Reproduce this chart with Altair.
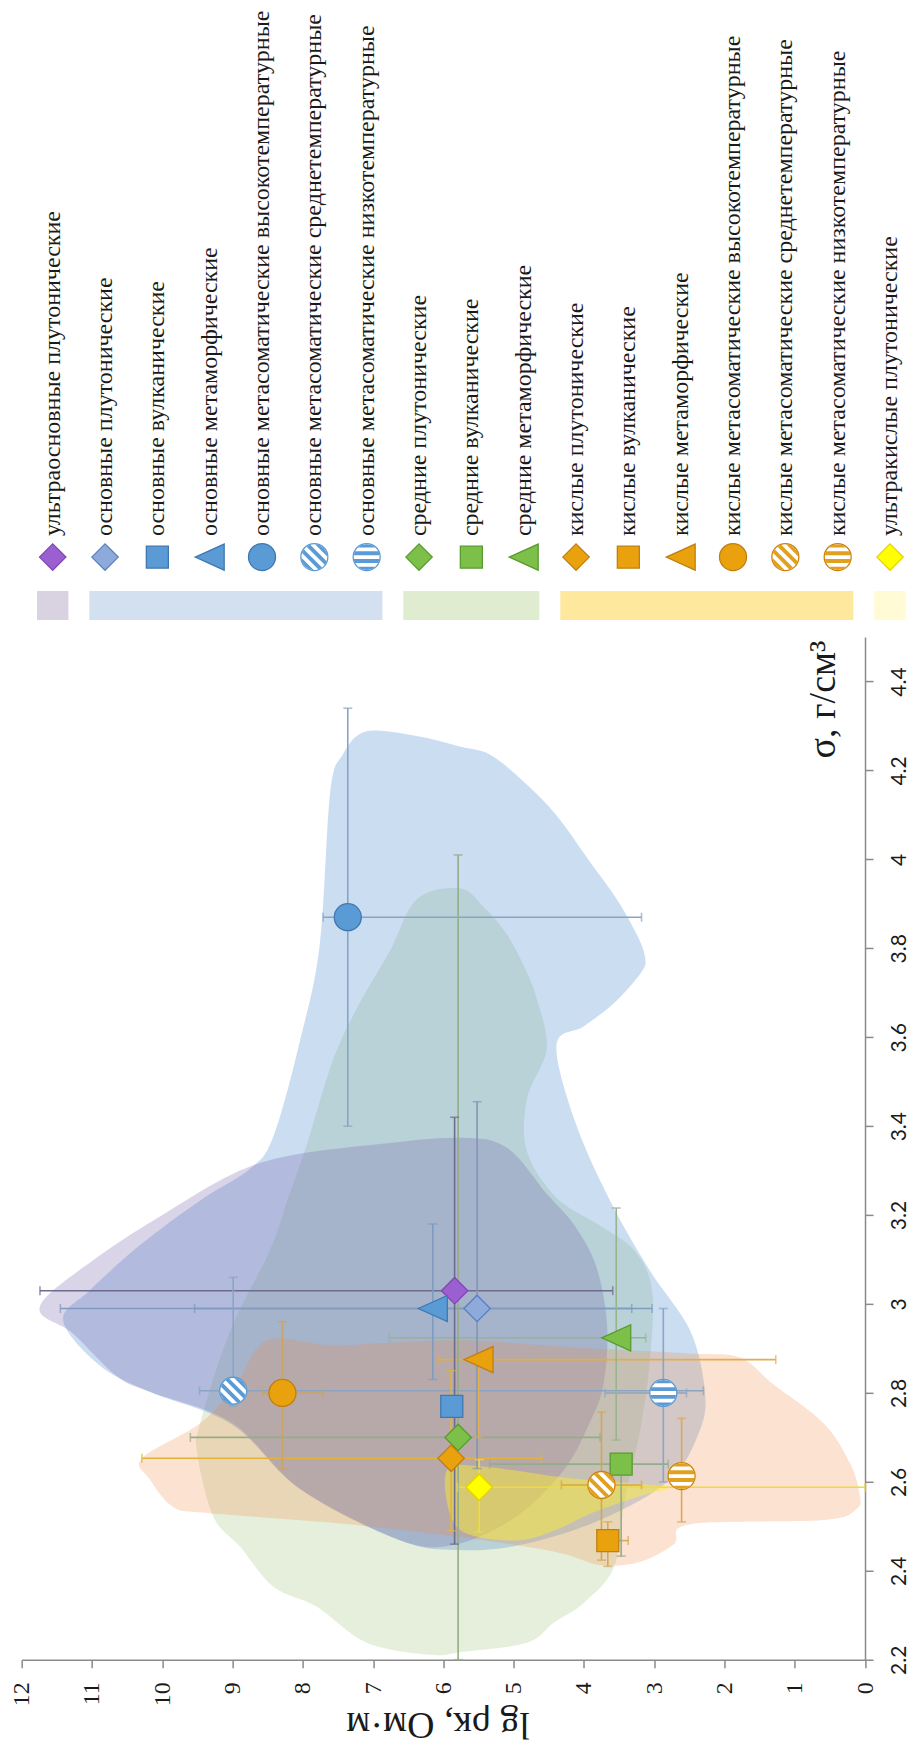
import math
import altair as alt
import pandas as pd

# ------------------------------------------------------------------ data
names = [
    "ультраосновные плутонические",
    "основные плутонические",
    "основные вулканические",
    "основные метаморфические",
    "основные метасоматические высокотемпературные",
    "основные метасоматические среднетемпературные",
    "основные метасоматические низкотемпературные",
    "средние плутонические",
    "средние вулканические",
    "средние метаморфические",
    "кислые плутонические",
    "кислые вулканические",
    "кислые метаморфические",
    "кислые метасоматические высокотемпературные",
    "кислые метасоматические среднетемпературные",
    "кислые метасоматические низкотемпературные",
    "ультракислые плутонические",
]
lg_vals = [5.84, 5.52, 5.88, 6.15, 7.36, 8.99, 2.87, 5.79, 3.47, 3.54, 5.89, 3.66, 5.50, 8.29, 3.75, 2.61, 5.49]
sig_vals = [3.03, 2.99, 2.77, 2.99, 3.87, 2.805, 2.80, 2.70, 2.64, 2.924, 2.653, 2.468, 2.875, 2.80, 2.593, 2.613, 2.588]
lg_left = [11.74, 9.54, 5.88, 11.45, 7.71, 9.47, 3.70, 9.60, 5.34, 6.77, 10.29, 3.77, 6.07, 8.57, 4.32, 2.61, 5.80]
lg_right = [3.59, 3.32, 5.88, 3.03, 3.18, 2.30, 2.54, 3.77, 2.80, 3.12, 4.60, 3.37, 1.27, 7.71, 3.18, 2.61, 0.00]
sig_low = [2.46, 2.63, 2.77, 2.83, 3.40, 2.77, 2.60, 2.20, 2.433, 2.694, 2.49, 2.41, 2.70, 2.63, 2.424, 2.51, 2.488]
sig_high = [3.42, 3.455, 2.77, 3.18, 4.34, 3.06, 2.99, 4.01, 2.64, 3.216, 2.85, 2.51, 2.875, 2.96, 2.757, 2.743, 2.65]

marker_kind = ["diamond", "diamond", "square", "triangle", "circle", "diag", "horiz",
               "diamond", "square", "triangle",
               "diamond", "square", "triangle", "circle", "diag", "horiz",
               "diamond"]
marker_fill = ["#9c5fd2", "#8eaadb", "#5b9bd5", "#5b9bd5", "#5b9bd5", "#ffffff", "#ffffff",
               "#7cc04a", "#7cc04a", "#7cc04a",
               "#e9a20e", "#e9a20e", "#e9a20e", "#e9a20e", "#ffffff", "#ffffff",
               "#ffff00"]
marker_stroke = ["#7d48b0", "#5b7fc0", "#3f78b0", "#3f78b0", "#3f78b0", "#5b9bd5", "#5b9bd5",
                 "#5a9a2f", "#5a9a2f", "#5a9a2f",
                 "#c07f10", "#c07f10", "#c07f10", "#c07f10", "#d0800a", "#d0800a",
                 "#e6d200"]
stripe_color = [None, None, None, None, None, "#5b9bd5", "#5b9bd5",
                None, None, None,
                None, None, None, None, "#e0a020", "#e0a020",
                None]
bar_colors = ["#6f6b8c", "#8096b5", "#7f9cc0", "#7f9cc0", "#8aa4c2", "#8aa4c2", "#8ca5c2",
              "#94ad88", "#94ad88", "#9ab38f",
              "#e3b23c", "#d9a75a", "#e2ad4d", "#c9a465", "#d7a550", "#dba85a",
              "#f0db3a"]

group_names = ["ультраосновные", "основные", "средние", "кислые", "ультракислые"]
group_first = [0, 1, 7, 10, 16]
group_last = [0, 6, 9, 15, 16]
group_colors = ["#d9d2e1", "#d2e0f0", "#dfeccf", "#fde89d", "#fffbd5"]

# shaded fields (lg rho, sigma) vertices
blue_lg = [7.43, 7.09, 6.33, 5.77, 5.34, 4.86, 4.39, 3.92, 3.53, 3.25, 3.13, 3.18, 3.57, 4.00, 4.39,
           4.13, 3.63, 3.06, 2.49, 2.28, 2.35, 2.78, 3.77, 4.91, 5.81, 6.62, 8.04, 9.00, 10.17, 10.89,
           11.41, 11.03, 10.32, 9.46, 8.75, 8.42, 8.04, 7.76, 7.61]
blue_sig = [4.236, 4.288, 4.276, 4.254, 4.236, 4.175, 4.099, 3.996, 3.910, 3.832, 3.780, 3.747, 3.677, 3.625, 3.583,
            3.412, 3.233, 3.075, 2.941, 2.806, 2.716, 2.604, 2.514, 2.458, 2.447, 2.469, 2.584, 2.728, 2.802, 2.862,
            2.963, 3.031, 3.132, 3.233, 3.304, 3.376, 3.592, 3.807, 4.151]
purple_lg = [11.74, 10.89, 9.94, 8.99, 8.18, 6.90, 5.77, 5.10, 4.53, 4.13, 3.82, 3.67, 3.72, 3.92, 4.29,
             4.95, 5.81, 6.62, 8.04, 9.00, 10.17, 10.64, 11.27]
purple_sig = [2.995, 3.109, 3.206, 3.293, 3.334, 3.360, 3.374, 3.352, 3.248, 3.176, 3.082, 2.952, 2.820, 2.732, 2.626,
              2.523, 2.460, 2.469, 2.584, 2.732, 2.802, 2.837, 2.934]
green_lg = [6.38, 5.77, 5.42, 5.10, 4.86, 4.67, 4.53, 4.81, 4.81, 4.39, 3.77, 3.28, 3.03, 3.06, 3.20, 3.42,
            3.57, 4.00, 4.43, 4.81, 5.71, 6.19, 7.09, 7.80, 8.42, 8.89, 9.27, 9.50, 9.46, 9.03, 8.47, 8.22,
            7.94, 7.57, 7.19, 6.76]
green_sig = [3.910, 3.935, 3.892, 3.832, 3.762, 3.686, 3.574, 3.462, 3.343, 3.239, 3.176, 3.120, 3.031, 2.873, 2.716, 2.559,
             2.409, 2.328, 2.283, 2.238, 2.218, 2.211, 2.238, 2.319, 2.364, 2.454, 2.521, 2.662, 2.732, 2.941, 3.120, 3.233,
             3.360, 3.549, 3.677, 3.794]
peach_lg = [10.29, 9.46, 8.96, 8.51, 7.57, 6.62, 5.62, 4.20, 2.49, 1.78, 1.31, 0.59, 0.22, 0.08, 0.12, 0.59,
            2.49, 2.72, 3.21, 3.77, 4.39, 5.77, 7.57, 9.36, 9.84, 10.17]
peach_sig = [2.653, 2.732, 2.817, 2.918, 2.907, 2.914, 2.918, 2.903, 2.889, 2.880, 2.820, 2.732, 2.644, 2.575, 2.539, 2.514,
             2.505, 2.460, 2.420, 2.413, 2.442, 2.476, 2.508, 2.530, 2.543, 2.604]
yellow_lg = [5.95, 5.48, 4.20, 3.20, 2.78, 3.20, 3.92, 4.34, 4.91, 5.62, 5.90]
yellow_sig = [2.626, 2.635, 2.608, 2.595, 2.586, 2.568, 2.528, 2.496, 2.469, 2.481, 2.525]

lg_ticks = list(range(0, 13))
sig_ticks = [2.2, 2.4, 2.6, 2.8, 3.0, 3.2, 3.4, 3.6, 3.8, 4.0, 4.2, 4.4]

# ------------------------------------------------------------------ layout / style
W, H = 843.6, 1023
PAD = {"left": 13.7, "top": 629, "right": 44, "bottom": 92}
SERIF = "Liberation Serif"
SANS = "Lato"
AXIS_GREY = "#8a8a8a"

LEG_RANGE = [31, 868.6]  # legend item centres, plot pixels
LEG_SYM_Y = -80
LEG_TXT_Y = -101
LEG_BAR_Y = (-46, -17)


def stripe_path(angle_deg):
    n, r = 7, 0.96
    ca, sa = math.cos(math.radians(angle_deg)), math.sin(math.radians(angle_deg))
    parts = []
    for k in range(0, n, 2):
        y1 = max(-1 + k * 2.0 / n, -r)
        y2 = min(-1 + (k + 1) * 2.0 / n, r)
        ys = [y1 + (y2 - y1) * t / 4 for t in range(5)]
        left = [(-math.sqrt(max(r * r - y * y, 0.0)), y) for y in ys]
        right = [(math.sqrt(max(r * r - y * y, 0.0)), y) for y in reversed(ys)]
        pts_ = [(x * ca - y * sa, x * sa + y * ca) for x, y in left + right]
        parts.append("M" + "L".join(f"{x:.3f},{y:.3f}" for x, y in pts_) + "Z")
    return "".join(parts)


TRI = "M-1,0L1,-0.9L1,0.9Z"
shape_of = {"diamond": ("diamond", 700), "square": ("square", 484), "triangle": (TRI, 841),
            "circle": ("circle", 729), "diag": ("circle", 729), "horiz": ("circle", 729)}
stripe_of = {"diag": stripe_path(45), "horiz": stripe_path(0)}

# ------------------------------------------------------------------ tables
pts = pd.DataFrame({
    "name": names, "idx": list(range(len(names))), "lg": lg_vals, "sig": sig_vals,
    "shape": [shape_of[k][0] for k in marker_kind],
    "size": [shape_of[k][1] for k in marker_kind],
    "fill": marker_fill, "stroke": marker_stroke,
})
stripes = pd.DataFrame([
    {"idx": i, "lg": lg_vals[i], "sig": sig_vals[i], "shape": stripe_of[marker_kind[i]],
     "size": 729, "fill": stripe_color[i]}
    for i in range(len(names)) if marker_kind[i] in stripe_of
])
hbars = pd.DataFrame([
    {"sig": sig_vals[i], "a": lg_left[i], "b": lg_right[i], "col": bar_colors[i]}
    for i in range(len(names)) if lg_left[i] != lg_right[i]
])
vbars = pd.DataFrame([
    {"lg": lg_vals[i], "a": sig_low[i], "b": sig_high[i], "col": bar_colors[i]}
    for i in range(len(names)) if sig_low[i] != sig_high[i]
])
hcaps = pd.DataFrame(
    [{"sig": r.sig, "lg": v, "col": r.col} for r in hbars.itertuples() for v in (r.a, r.b)]
)
vcaps = pd.DataFrame(
    [{"lg": r.lg, "sig": v, "col": r.col} for r in vbars.itertuples() for v in (r.a, r.b)]
)
groups = pd.DataFrame({
    "g": group_names,
    "x0": [f - 0.3 for f in group_first],
    "x1": [l + 0.3 for l in group_last],
    "col": group_colors,
})

# ------------------------------------------------------------------ scales / axes
x_scale = alt.Scale(domain=[0, 12], reverse=True, nice=False, zero=False)
y_scale = alt.Scale(domain=[2.2, 4.5], nice=False, zero=False)

x_axis = alt.Axis(
    values=lg_ticks, format="d", labelAngle=270, labelAlign="right", labelBaseline="middle",
    labelFont=SERIF, labelFontSize=24, labelColor="#1a1a1a", labelPadding=14,
    labelFlush=False, labelOverlap=False,
    tickSize=8, tickColor=AXIS_GREY, tickWidth=1.5, domainColor=AXIS_GREY, domainWidth=1.5,
    grid=False,
    title="lg ρк, Ом·м", titleAngle=180, titleFont=SERIF, titleFontSize=38,
    titleFontWeight="normal", titleColor="#1a1a1a", titleX=416, titleY=64,
    titleAlign="center", titleBaseline="middle",
)
y_axis = alt.Axis(
    orient="right", values=sig_ticks, format="~g", labelAngle=270, labelAlign="center",
    labelBaseline="top", labelFont=SANS, labelFontSize=21, labelColor="#1a1a1a",
    labelPadding=15, labelFlush=False, labelOverlap=False,
    tickSize=8, tickColor=AXIS_GREY, tickWidth=1.5, domainColor=AXIS_GREY, domainWidth=1.5,
    grid=False,
    title="σ, г/см³", titleAngle=270, titleFont=SERIF, titleFontSize=38,
    titleFontWeight="normal", titleColor="#1a1a1a", titleX=-42, titleY=3,
    titleAlign="right", titleBaseline="middle",
)


def X(field):
    return alt.X(field, type="quantitative", scale=x_scale, axis=x_axis)


def Y(field):
    return alt.Y(field, type="quantitative", scale=y_scale, axis=y_axis)


# ------------------------------------------------------------------ fields
def region(lgs, sigs, color, alpha):
    df = pd.DataFrame({"lg": lgs, "sig": sigs, "i": list(range(len(lgs)))})
    return alt.Chart(df).mark_line(
        interpolate="cardinal-closed", fill=color, fillOpacity=alpha,
        strokeOpacity=0, strokeWidth=0,
    ).encode(x=X("lg"), y=Y("sig"), order=alt.Order("i:Q"))


regions = [
    region(green_lg, green_sig, "#8cb45a", 0.22),
    region(blue_lg, blue_sig, "#4f8fd0", 0.30),
    region(purple_lg, purple_sig, "#7864aa", 0.28),
    region(peach_lg, peach_sig, "#f08c46", 0.25),
    region(yellow_lg, yellow_sig, "#fff028", 0.45),
]

hbar_layer = alt.Chart(hbars).mark_rule(strokeWidth=1.6).encode(
    x=X("a"), x2="b", y=Y("sig"), color=alt.Color("col:N", scale=None))
vbar_layer = alt.Chart(vbars).mark_rule(strokeWidth=1.6).encode(
    y=Y("a"), y2="b", x=X("lg"), color=alt.Color("col:N", scale=None))
hcap_layer = alt.Chart(hcaps).mark_tick(orient="vertical", size=9, thickness=1.6).encode(
    x=X("lg"), y=Y("sig"), color=alt.Color("col:N", scale=None))
vcap_layer = alt.Chart(vcaps).mark_tick(orient="horizontal", size=9, thickness=1.6).encode(
    x=X("lg"), y=Y("sig"), color=alt.Color("col:N", scale=None))

point_layer = alt.Chart(pts).mark_point(filled=True, opacity=1, fillOpacity=1, strokeOpacity=1, strokeWidth=1.3).encode(
    x=X("lg"), y=Y("sig"),
    shape=alt.Shape("shape:N", scale=None), size=alt.Size("size:Q", scale=None),
    fill=alt.Fill("fill:N", scale=None), stroke=alt.Stroke("stroke:N", scale=None),
)
stripe_layer = alt.Chart(stripes).mark_point(filled=True, opacity=1, fillOpacity=1, strokeWidth=0).encode(
    x=X("lg"), y=Y("sig"),
    shape=alt.Shape("shape:N", scale=None), size=alt.Size("size:Q", scale=None),
    fill=alt.Fill("fill:N", scale=None),
)

main = alt.layer(*regions, hbar_layer, vbar_layer, hcap_layer, vcap_layer, point_layer, stripe_layer)

# ------------------------------------------------------------------ legend (above the plot)
leg_scale = alt.Scale(domain=[0, 16], range=LEG_RANGE, nice=False, zero=False)
leg_bars = alt.Chart(groups).mark_rect().encode(
    x=alt.X("x0:Q", scale=leg_scale, axis=None), x2="x1:Q",
    y=alt.value(LEG_BAR_Y[0]), y2=alt.value(LEG_BAR_Y[1]),
    fill=alt.Fill("col:N", scale=None),
)
leg_syms = alt.Chart(pts).mark_point(filled=True, opacity=1, fillOpacity=1, strokeOpacity=1, strokeWidth=1.3).encode(
    x=alt.X("idx:Q", scale=leg_scale, axis=None), y=alt.value(LEG_SYM_Y),
    shape=alt.Shape("shape:N", scale=None), size=alt.Size("size:Q", scale=None),
    fill=alt.Fill("fill:N", scale=None), stroke=alt.Stroke("stroke:N", scale=None),
)
leg_stripes = alt.Chart(stripes).mark_point(filled=True, opacity=1, fillOpacity=1, strokeWidth=0).encode(
    x=alt.X("idx:Q", scale=leg_scale, axis=None), y=alt.value(LEG_SYM_Y),
    shape=alt.Shape("shape:N", scale=None), size=alt.Size("size:Q", scale=None),
    fill=alt.Fill("fill:N", scale=None),
)
leg_text = alt.Chart(pts).mark_text(
    angle=270, align="left", baseline="middle", font=SERIF, fontSize=24, color="#1a1a1a",
).encode(
    x=alt.X("idx:Q", scale=leg_scale, axis=None), y=alt.value(LEG_TXT_Y), text="name:N",
)
legend = alt.layer(leg_bars, leg_syms, leg_stripes, leg_text)

chart = alt.layer(main, legend).resolve_scale(x="independent").properties(
    width=W, height=H, padding=PAD, autosize=alt.AutoSizeParams(type="none"),
    background="white",
).configure_view(stroke=None)

chart.save("out.html", embed_options={"renderer": "svg", "actions": False})
